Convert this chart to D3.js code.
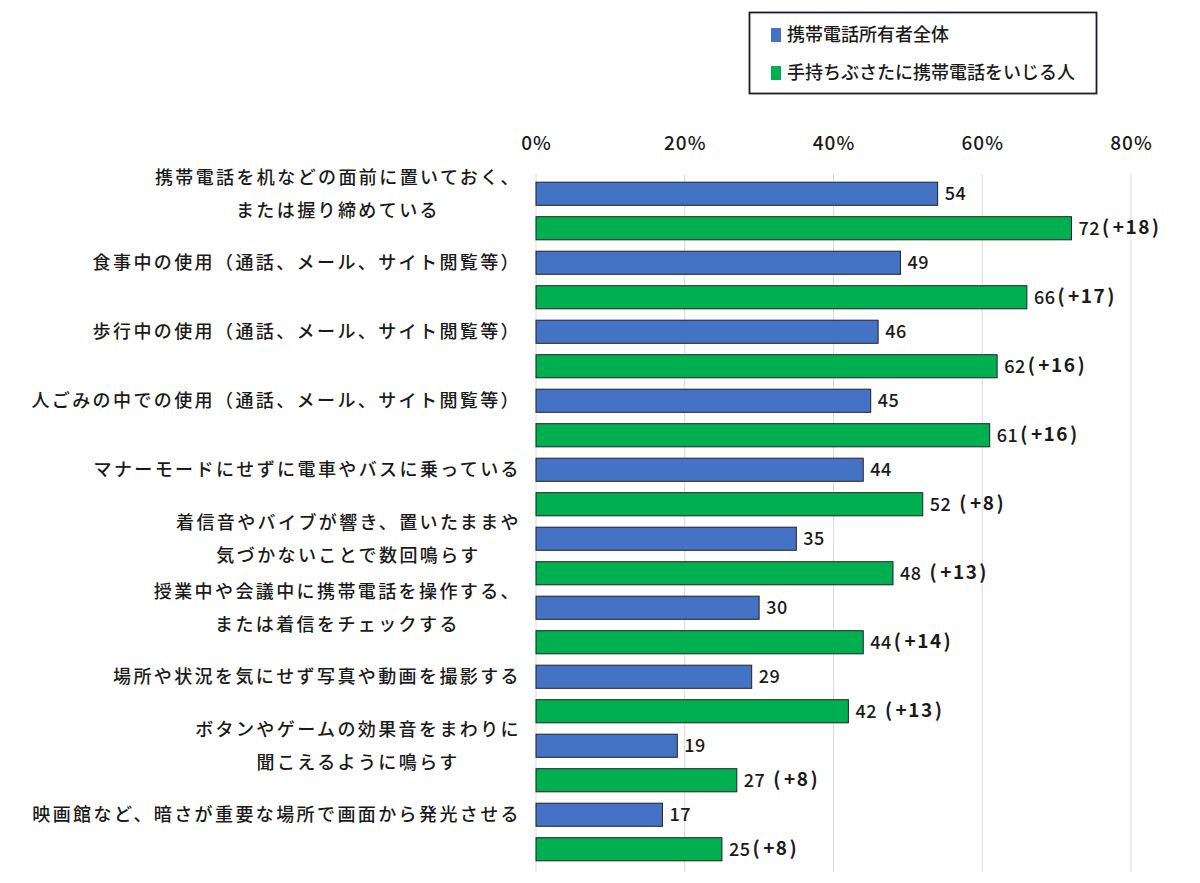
<!DOCTYPE html>
<html><head><meta charset="utf-8">
<script src="https://cdn.jsdelivr.net/npm/d3@7"></script>
<style>
html,body{margin:0;padding:0;background:#fff;}
text{font-family:"Noto Sans CJK JP","Noto Sans",sans-serif;fill:#1a1a1a;}
</style></head>
<body><svg id="chart" width="1200" height="883"></svg>
<script>
const categories = [
  ["携帯電話を机などの面前に置いておく、","または握り締めている"],
  ["食事中の使用（通話、メール、サイト閲覧等）"],
  ["歩行中の使用（通話、メール、サイト閲覧等）"],
  ["人ごみの中での使用（通話、メール、サイト閲覧等）"],
  ["マナーモードにせずに電車やバスに乗っている"],
  ["着信音やバイブが響き、置いたままや","気づかないことで数回鳴らす"],
  ["授業中や会議中に携帯電話を操作する、","または着信をチェックする"],
  ["場所や状況を気にせず写真や動画を撮影する"],
  ["ボタンやゲームの効果音をまわりに","聞こえるように鳴らす"],
  ["映画館など、暗さが重要な場所で画面から発光させる"]
];
const seriesNames = ["携帯電話所有者全体","手持ちぶさたに携帯電話をいじる人"];
const allOwners = [54,49,46,45,44,35,30,29,19,17];
const fidgeters = [72,66,62,61,52,48,44,42,27,25];
const diffs = ["+18","+17","+16","+16","+8","+13","+14","+13","+8","+8"];
const diffGap = [false,false,false,false,true,true,false,true,true,false];
const tickValues = [0,20,40,60,80];
const colors = ["#4472C4","#00B050"];

const svg = d3.select("#chart");
const x = d3.scaleLinear().domain([0,80]).range([536,1131]);
const yCat = d3.scaleBand().domain(d3.range(categories.length)).range([176.5,866.5]);
const ySub = d3.scaleBand().domain([0,1]).range([0,yCat.bandwidth()]).paddingInner(0.33).paddingOuter(0.165);

// gridlines
svg.append("g").selectAll("line").data(tickValues).join("line")
  .attr("x1",d=>x(d)).attr("x2",d=>x(d)).attr("y1",174).attr("y2",872)
  .attr("stroke","#d9d9d9").attr("stroke-width",1);

// top axis labels
const axis = d3.axisTop(x).tickValues(tickValues).tickFormat(d=>d+"%").tickSize(0);
const ag = svg.append("g").attr("transform","translate(0,153)").call(axis);
ag.select(".domain").remove();
ag.selectAll("text").attr("font-size",19).attr("font-family","'Noto Sans CJK JP',sans-serif")
  .attr("font-weight",500).attr("fill","#1a1a1a").attr("letter-spacing","1px");

const data = categories.map((c,i)=>({i, vals:[allOwners[i],fidgeters[i]]}));
const groups = svg.append("g").selectAll("g").data(data).join("g")
  .attr("transform",d=>`translate(0,${yCat(d.i)})`);

groups.selectAll("rect").data(d=>d.vals.map((v,s)=>({v,s}))).join("rect")
  .attr("x",x(0)).attr("y",d=>ySub(d.s)).attr("width",d=>x(d.v)-x(0))
  .attr("height",ySub.bandwidth()).attr("fill",d=>colors[d.s])
  .attr("stroke","#222").attr("stroke-width",1);

// value labels
groups.each(function(d){
  const g = d3.select(this);
  d.vals.forEach((v,s)=>{
    const t = g.append("text").attr("x",x(v)+7).attr("y",ySub(s)+ySub.bandwidth()/2)
      .attr("dy","0.36em").attr("font-size",18).attr("font-weight",500).attr("letter-spacing","0.5px");
    t.append("tspan").text(v);
    if(s===1){
      t.append("tspan").attr("font-weight","bold").attr("font-size",19).attr("dx", diffGap[d.i]?8:2).attr("dy","-0.05em").text("(");
      t.append("tspan").attr("font-weight","bold").attr("font-size",19).attr("dx",3).attr("dy","0").attr("letter-spacing","1.5px").text(diffs[d.i]);
      t.append("tspan").attr("font-weight","bold").attr("font-size",19).attr("dx",1).text(")");
    }
  });
});

// category labels (centered block, right edge fixed)
groups.each(function(d){
  const g = d3.select(this);
  const lines = categories[d.i];
  const cy = ySub(0)+ySub.bandwidth()/2;
  const lh = 33;
  const t = g.append("g");
  const texts = lines.map((ln,k)=> t.append("text").attr("font-size",18).attr("font-weight",500)
      .attr("letter-spacing","2.4px")
      .attr("y", cy + (k-(lines.length-1)/2)*lh).attr("dy","0.36em").text(ln));
  const widths = texts.map(tt=>tt.node().getComputedTextLength());
  const maxW = d3.max(widths);
  const right = 521;
  texts.forEach(tt=>tt.attr("text-anchor","middle").attr("x", right - maxW/2));
});

// legend
const lg = svg.append("g");
lg.append("rect").attr("x",749.5).attr("y",12.5).attr("width",347).attr("height",81)
  .attr("fill","#fff").attr("stroke","#1c1c2a").attr("stroke-width",1.8);
seriesNames.forEach((n,i)=>{
  const cy = 35 + i*38;
  lg.append("rect").attr("x",771).attr("y",cy-7).attr("width",10).attr("height",14).attr("fill",colors[i]);
  lg.append("text").attr("x",787).attr("y",cy).attr("dy","0.36em").attr("font-size",18)
    .attr("font-weight","500").text(n);
});
</script>
</body></html>
